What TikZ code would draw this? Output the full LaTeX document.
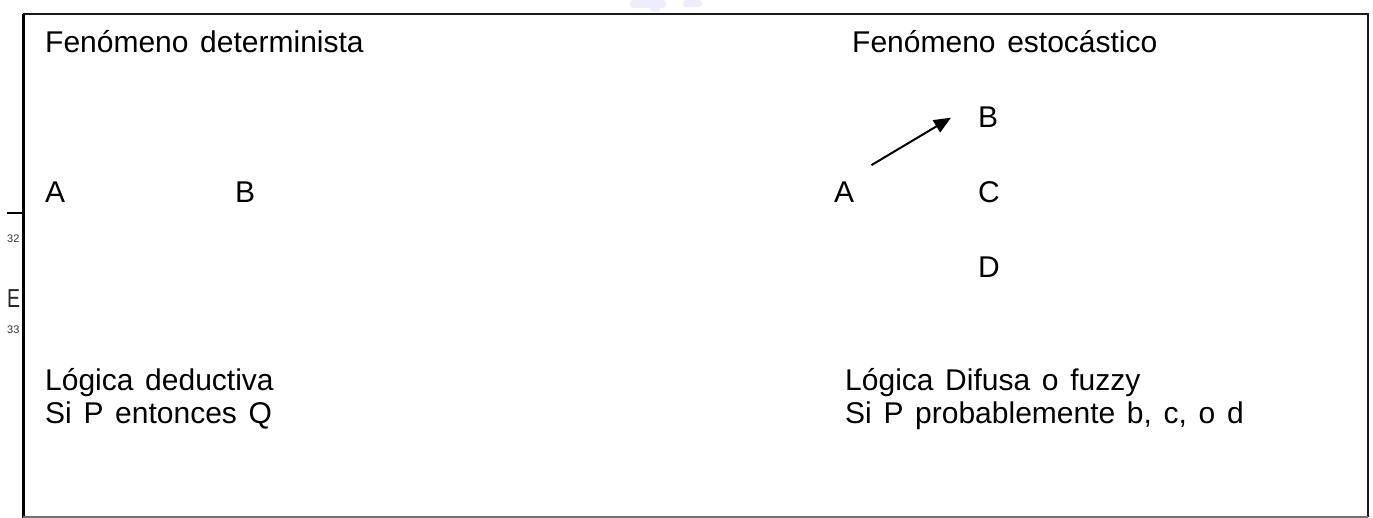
\documentclass[tikz,border=0pt]{standalone}
\usepackage{fontspec}
\setmainfont{Liberation Sans}[WordSpace=1.4]
\usetikzlibrary{arrows.meta}
\tikzset{
  lbl/.style={anchor=base west, inner sep=0pt, font=\fontsize{30}{36}\selectfont},
  tiny/.style={anchor=base west, inner sep=0pt, font=\fontsize{11}{13}\selectfont, text=black!80},
  frame/.style={line width=2.2pt, draw=black!90},
  arr/.style={line width=2pt, -{Triangle[length=17pt, width=14pt]}},
}
\begin{document}
\begin{tikzpicture}[x=1pt,y=-1pt]
  \useasboundingbox (0,0) rectangle (1373,518);
  % faint smudges at the top edge
  \fill[blue!7, rounded corners=3pt] (630,0) rectangle (666,8);
  \fill[blue!7, rounded corners=3pt] (650,4) rectangle (660,12);
  \fill[blue!7, rounded corners=3pt] (683,0) rectangle (702,7);
  % outer frame
  \draw[frame] (23,14) -- (1368,14) -- (1368,517);
  \draw[line width=3pt, draw=black] (23,14) -- (23,518);
  \draw[line width=1.5pt, draw=black!55] (23,517) -- (1368,517);
  % cut-off page fragments on the left
  \draw[line width=1.5pt] (7,213) -- (23,213);
  \node[tiny] (n32) at (7,243) {32};
  \node[anchor=base west, inner sep=0pt, font=\fontsize{26}{30}\selectfont, xscale=0.75, text=black!85] (nE) at (7,308) {E};
  \node[tiny] (n33) at (7,334) {33};
  % deterministic side
  \node[lbl] (tdet) at (45,53) {Fenómeno determinista};
  \node[lbl] (dA) at (45,203) {A};
  \node[lbl] (dB) at (235,203) {B};
  \node[lbl] (ldet) at (45,391) {Lógica deductiva};
  \node[lbl] (rdet) at (45,423) {Si P entonces Q};
  % stochastic side
  \node[lbl] (tsto) at (852,53) {Fenómeno estocástico};
  \node[lbl] (sA) at (834,203) {A};
  \node[lbl] (sB) at (978,128) {B};
  \node[lbl] (sC) at (978,203) {C};
  \node[lbl] (sD) at (978,278) {D};
  \node[lbl] (lsto) at (845,391) {Lógica Difusa o fuzzy};
  \node[lbl] (rsto) at (845,423) {Si P probablemente b, c, o d};
  \coordinate (aStart) at ([xshift=17pt,yshift=17pt]sA.north east);
  \coordinate (aEnd) at ([xshift=-27pt]sB.west);
  \draw[arr] (aStart) -- (aEnd);
\end{tikzpicture}
\end{document}
